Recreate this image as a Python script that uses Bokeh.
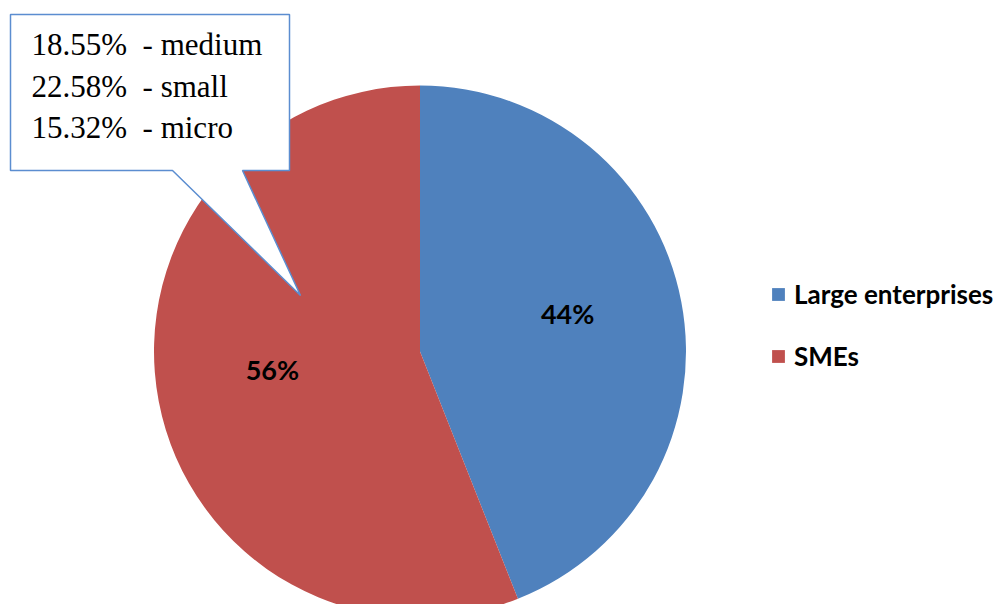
import math
from bokeh.plotting import figure
from bokeh.models import Range1d, Legend, LegendItem, ColumnDataSource
from bokeh.core.properties import value
from bokeh.embed import file_html
from bokeh.resources import INLINE

# ---- data ----
categories = ["Large enterprises", "SMEs"]
shares = [44, 56]
colors = ["#4F81BD", "#C0504D"]
sme_breakdown_values = [18.55, 22.58, 15.32]
sme_breakdown_labels = ["medium", "small", "micro"]

# ---- layout (pixel coordinates, y measured downward) ----
W, H = 1000, 604
p = figure(width=W, height=H, output_backend="svg", toolbar_location=None,
           x_range=Range1d(0, W), y_range=Range1d(-H, 0),
           min_border=0)
p.axis.visible = False
p.grid.visible = False
p.outline_line_color = None
p.background_fill_color = "white"

cx, cy, r = 419.5, -351.0, 266.0

total = float(sum(shares))
starts, ends, mids = [], [], []
a = math.pi / 2
for s in shares:
    span = 2 * math.pi * s / total
    starts.append(a)
    ends.append(a - span)
    mids.append(a - span / 2)
    a -= span

src = ColumnDataSource(dict(start=starts, end=ends, color=colors, cat=categories))
wr = p.wedge(x=cx, y=cy, radius=r, start_angle="start", end_angle="end",
             direction="clock", fill_color="color", line_color=None, source=src)

# percentage labels
lx = [cx + 0.565 * r * math.cos(m) for m in mids]
ly = [cy + 0.565 * r * math.sin(m) for m in mids]
lt = [f"{s}%" for s in shares]
p.text(x=lx, y=ly, text=lt, text_font=value("Lato"), text_font_style="bold",
       text_font_size="27px", text_align="center", text_baseline="middle",
       y_offset=-10, text_color="black")

# callout box
bx0, by0, bx1, by1 = 10, 14, 289, 170
tip = (300, 295)
px = [bx0, bx1, bx1, 242, tip[0], 172, bx0]
py = [-by0, -by0, -by1, -by1, -tip[1], -by1, -by1]
p.patch(px, py, fill_color="white", line_color="#5B8DD0", line_width=1.5)

tx = [31] * len(sme_breakdown_values)
ty = [-(44 + 41.5 * i) for i in range(len(sme_breakdown_values))]
tt = [f"{v:.2f}%\u00a0 - {n}" for v, n in zip(sme_breakdown_values, sme_breakdown_labels)]
p.text(x=tx, y=ty, text=tt, text_font=value("Liberation Serif"),
       text_font_size="31px", text_align="left", text_baseline="middle",
       text_color="black")

# legend
items = [LegendItem(label=c, renderers=[wr], index=i) for i, c in enumerate(categories)]
leg = Legend(items=items, location=(770, 232), orientation="vertical",
             glyph_width=16, glyph_height=16, label_height=16, spacing=30,
             label_standoff=8, padding=0, margin=0,
             border_line_color=None, background_fill_alpha=0,
             label_text_font="Lato", label_text_font_style="bold",
             label_text_font_size="26px", label_text_color="black")
p.add_layout(leg, "center")

open("out.html", "w").write(file_html(p, INLINE))
